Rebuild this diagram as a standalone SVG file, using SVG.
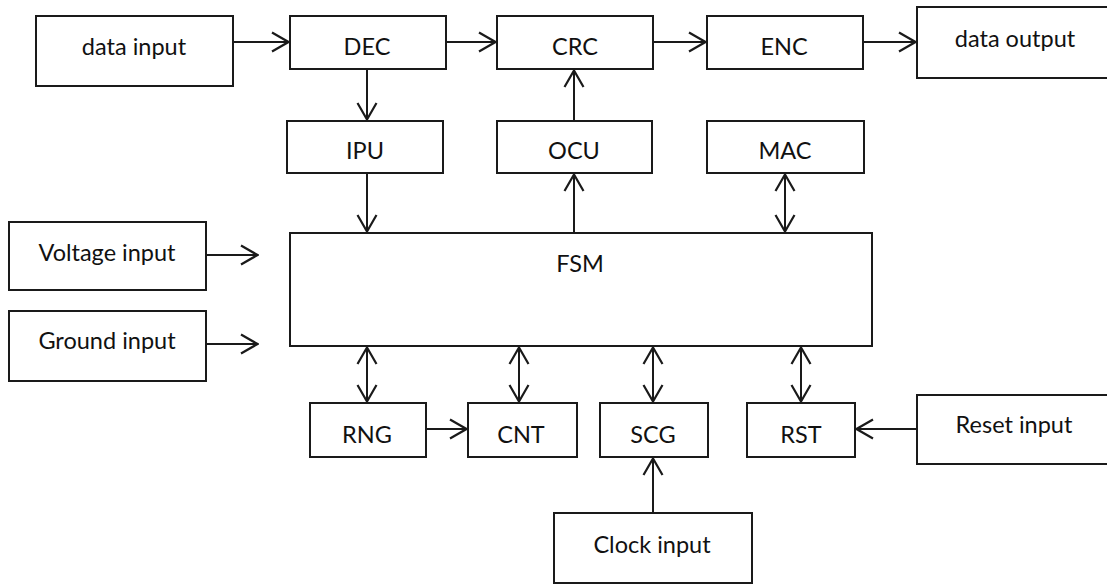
<svg xmlns="http://www.w3.org/2000/svg" width="1107" height="584" viewBox="0 0 1107 584">
<style>
.box{fill:#fff;stroke:#1a1a1a;stroke-width:2}
.lbl{font-family:Lato,"Open Sans","Liberation Sans",sans-serif;font-size:23.5px;fill:#111;text-anchor:middle}
.c{fill:none;stroke:#1a1a1a;stroke-width:2}
</style>
<defs>
<marker id="ah" viewBox="0 0 19 22" refX="18" refY="11" markerWidth="19" markerHeight="22" markerUnits="userSpaceOnUse" orient="auto-start-reverse">
<path d="M1,1.5 L17.5,11 L1,20.5" fill="none" stroke="#1a1a1a" stroke-width="2.2"/>
</marker>
</defs>
<rect width="1107" height="584" fill="#fff"/>
<g id="connectors">
<line class="c" x1="233" y1="42" x2="289" y2="42" marker-end="url(#ah)"/>
<line class="c" x1="446" y1="42" x2="496" y2="42" marker-end="url(#ah)"/>
<line class="c" x1="653" y1="42" x2="706" y2="42" marker-end="url(#ah)"/>
<line class="c" x1="863" y1="42" x2="916" y2="42" marker-end="url(#ah)"/>
<line class="c" x1="367" y1="69" x2="367" y2="120" marker-end="url(#ah)"/>
<line class="c" x1="574" y1="121" x2="574" y2="70" marker-end="url(#ah)"/>
<line class="c" x1="367" y1="173" x2="367" y2="232" marker-end="url(#ah)"/>
<line class="c" x1="574" y1="233" x2="574" y2="174" marker-end="url(#ah)"/>
<line class="c" x1="785" y1="174" x2="785" y2="232" marker-start="url(#ah)" marker-end="url(#ah)"/>
<line class="c" x1="206" y1="255" x2="258" y2="255" marker-end="url(#ah)"/>
<line class="c" x1="206" y1="344" x2="258" y2="344" marker-end="url(#ah)"/>
<line class="c" x1="367" y1="347" x2="367" y2="402" marker-start="url(#ah)" marker-end="url(#ah)"/>
<line class="c" x1="519" y1="347" x2="519" y2="402" marker-start="url(#ah)" marker-end="url(#ah)"/>
<line class="c" x1="653" y1="347" x2="653" y2="402" marker-start="url(#ah)" marker-end="url(#ah)"/>
<line class="c" x1="801" y1="347" x2="801" y2="402" marker-start="url(#ah)" marker-end="url(#ah)"/>
<line class="c" x1="426" y1="429" x2="467" y2="429" marker-end="url(#ah)"/>
<line class="c" x1="917" y1="429" x2="856" y2="429" marker-end="url(#ah)"/>
<line class="c" x1="653" y1="513" x2="653" y2="458" marker-end="url(#ah)"/>
</g>
<g id="data_input"><rect class="box" x="36" y="16" width="197" height="70"/><text class="lbl" x="134" y="55">data input</text></g>
<g id="DEC"><rect class="box" x="290" y="16" width="156" height="53"/><text class="lbl" x="367" y="55">DEC</text></g>
<g id="CRC"><rect class="box" x="497" y="16" width="156" height="53"/><text class="lbl" x="575" y="55">CRC</text></g>
<g id="ENC"><rect class="box" x="707" y="16" width="156" height="53"/><text class="lbl" x="784" y="55">ENC</text></g>
<g id="data_output"><rect class="box" x="917" y="7" width="200" height="71"/><text class="lbl" x="1015" y="47">data output</text></g>
<g id="IPU"><rect class="box" x="287" y="121" width="156" height="52"/><text class="lbl" x="365" y="159">IPU</text></g>
<g id="OCU"><rect class="box" x="497" y="121" width="155" height="52"/><text class="lbl" x="574" y="159">OCU</text></g>
<g id="MAC"><rect class="box" x="707" y="121" width="157" height="52"/><text class="lbl" x="785" y="159">MAC</text></g>
<g id="FSM"><rect class="box" x="290" y="233" width="582" height="113"/><text class="lbl" x="580" y="272">FSM</text></g>
<g id="voltage_input"><rect class="box" x="9" y="222" width="197" height="68"/><text class="lbl" x="107" y="261">Voltage input</text></g>
<g id="ground_input"><rect class="box" x="9" y="311" width="197" height="70"/><text class="lbl" x="107" y="349">Ground input</text></g>
<g id="RNG"><rect class="box" x="310" y="403" width="116" height="54"/><text class="lbl" x="367" y="443">RNG</text></g>
<g id="CNT"><rect class="box" x="468" y="403" width="109" height="54"/><text class="lbl" x="521" y="443">CNT</text></g>
<g id="SCG"><rect class="box" x="600" y="403" width="108" height="54"/><text class="lbl" x="653" y="443">SCG</text></g>
<g id="RST"><rect class="box" x="747" y="403" width="108" height="54"/><text class="lbl" x="801" y="443">RST</text></g>
<g id="reset_input"><rect class="box" x="917" y="395" width="200" height="69"/><text class="lbl" x="1014" y="433">Reset input</text></g>
<g id="clock_input"><rect class="box" x="554" y="513" width="198" height="70"/><text class="lbl" x="652" y="553">Clock input</text></g>
</svg>
